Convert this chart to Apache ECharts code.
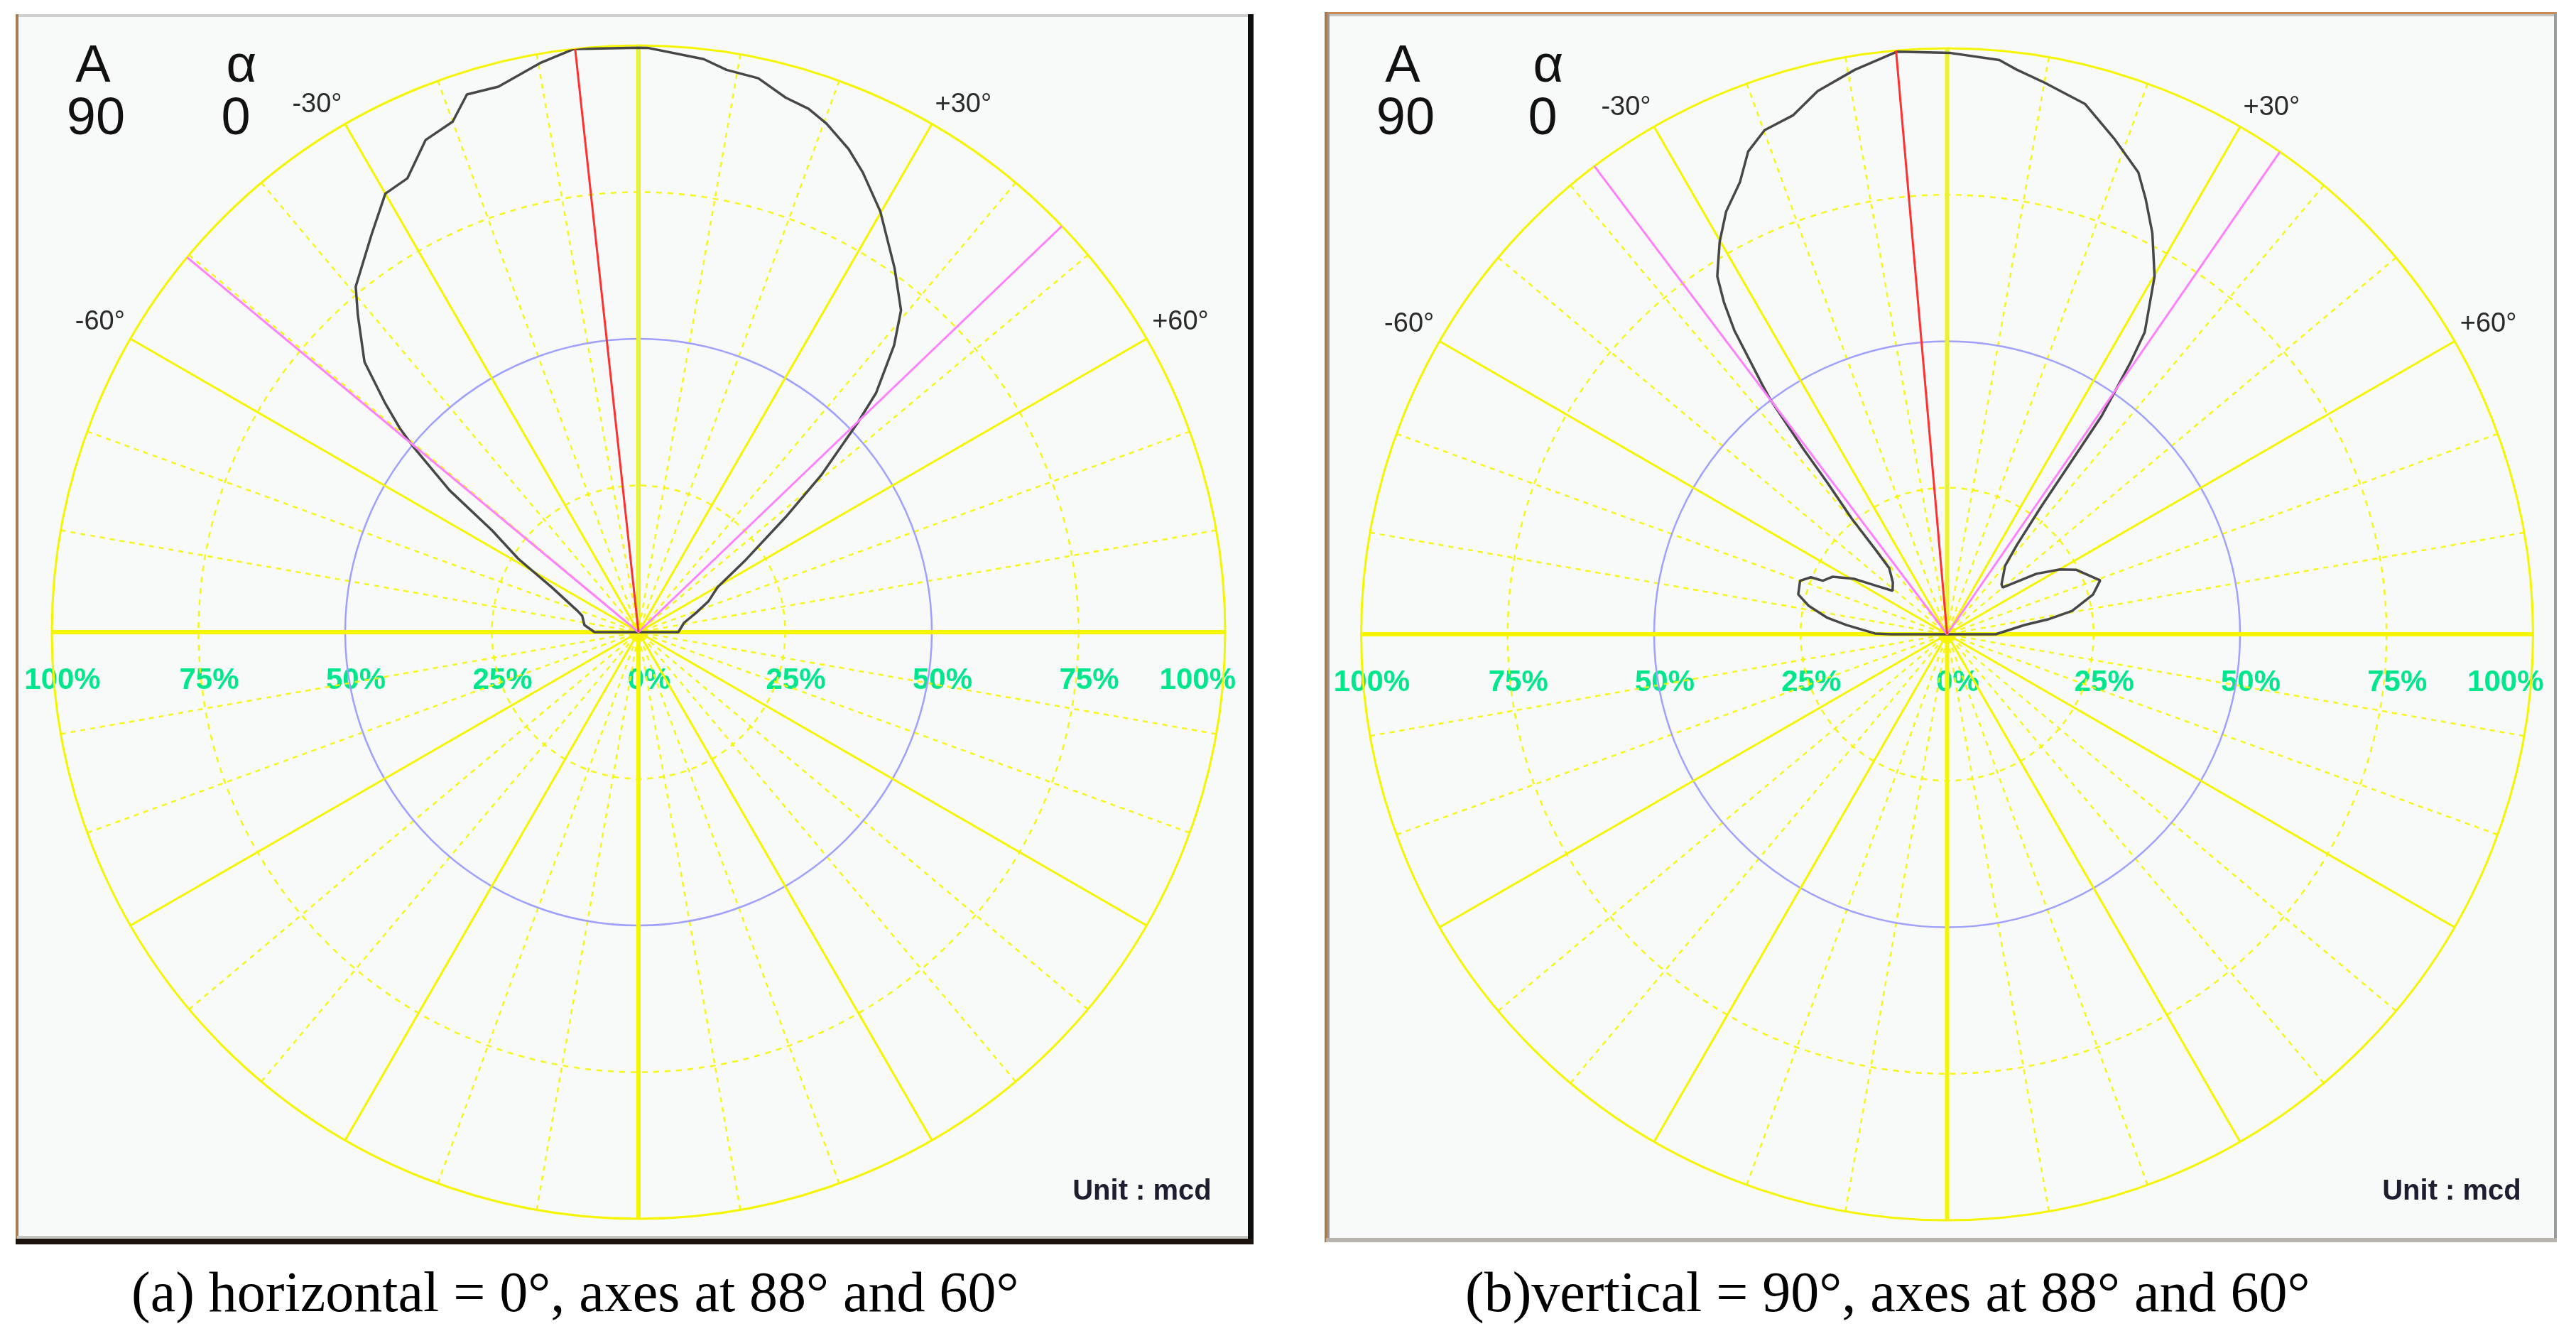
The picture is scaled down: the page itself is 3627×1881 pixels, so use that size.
<!DOCTYPE html>
<html>
<head>
<meta charset="utf-8">
<script src="https://cdn.jsdelivr.net/npm/echarts@6/dist/echarts.min.js"></script>
<style>
html,body{margin:0;padding:0;background:#ffffff;}
#c{width:3627px;height:1881px;}
</style>
</head>
<body>
<div id="c"></div>
<script>
// ---------- data ----------
// panel (a): horizontal = 0°
const anglesA = [-90, -82.5, -73.8, -70.8, -62.7, -58.6, -55.2, -53.1, -50.6, -49.5, -47.9, -45.4, -41.5, -39.3, -33.9, -30.0, -27.0, -23.4, -20.0, -17.7, -14.4, -9.7, -6.3, 0, 0.9, 6.5, 8.9, 12.2, 15.4, 18.0, 20.3, 23.5, 26.0, 29.9, 35.1, 39.2, 41.7, 44.8, 46.3, 49.3, 52.0, 56.0, 60.4, 66.3, 71.6, 78.5, 90];
const radiiA  = [7.5, 9.3, 10.0, 11.0, 16.6, 24.0, 30.4, 40.3, 49.5, 53.5, 58.2, 65.6, 72.2, 76.1, 81.6, 86.3, 86.8, 91.4, 92.6, 96.2, 96.0, 98.5, 100, 99.6, 99.6, 98.3, 97.0, 96.6, 94.5, 93.8, 92.4, 89.8, 87.2, 82.7, 75.9, 70.8, 65.5, 57.5, 51.7, 41.2, 31.8, 22.1, 15.5, 13.0, 10.3, 7.9, 6.8];
// panel (b): vertical = 90°
const anglesB = [-90, -89.4, -84.8, -82.2, -78.4, -75.0, -70.0, -67.3, -66.7, -63.4, -59.3, -55.4, -51.4, -46.3, -41.2, -40.2, -39.5, -38.3, -37.8, -37.0, -36.5, -35.0, -33.9, -32.7, -30.1, -27.6, -24.6, -22.4, -19.9, -16.5, -13.4, -9.3, -4.9, 0.35, 5.2, 7.0, 10.0, 14.6, 18.6, 22.5, 24.5, 27.1, 30.1, 31.4, 33.2, 34.0, 34.7, 35.3, 35.6, 36.4, 38.0, 40.3, 47.5, 50.0, 52.2, 55.9, 60.1, 63.4, 70.6, 74.8, 79.4, 81.6, 83.2, 90];
const radiiB  = [9.5, 12.3, 17.2, 20.6, 24.1, 26.3, 26.7, 25.2, 23.1, 21.9, 18.6, 14.5, 11.9, 12.8, 15.0, 19.1, 25.6, 32.9, 39.9, 50.0, 53.1, 63.3, 68.3, 72.6, 77.4, 81.4, 84.9, 89.1, 91.5, 92.4, 95.3, 97.6, 99.8, 99.2, 98.4, 97.1, 95.6, 93.5, 89.3, 85.3, 81.7, 76.9, 70.6, 66.5, 61.6, 56.0, 50.0, 45.6, 38.5, 27.0, 19.4, 15.3, 12.6, 12.4, 14.1, 18.4, 22.2, 24.6, 27.7, 25.8, 21.7, 17.4, 13.3, 8.3];
// peak direction (red), half-intensity directions (pink), 0° reference
const peakAngleA = -6.2;
const halfAnglesA = [-50.3, 46.2];
const peakAngleB = -5.0;
const halfAnglesB = [-37.0, 34.6];
const referenceAngle = 0;
// tick labels
const angleTickValues = [-60, -30, 30, 60];
const angleTickLabels = ['-60°', '-30°', '+30°', '+60°'];
const percentTickValues = [-100, -75, -50, -25, 0, 25, 50, 75, 100];
const percentTickLabels = ['100%', '75%', '50%', '25%', '0%', '25%', '50%', '75%', '100%'];
const headerNames = ['A', 'α'];
const headerValues = ['90', '0'];
const unitText = 'Unit : mcd';
const captions = ['(a) horizontal = 0°, axes at 88° and 60°', '(b)vertical = 90°, axes at 88° and 60°'];

// ---------- layout ----------
const panels = [
  {cx: 899, cy: 890, R: 826, box: [24, 22, 1765, 1752], angles: anglesA, radii: radiiA, peak: peakAngleA, half: halfAnglesA,
   hdrX: [131, 340], unitX: 1608, capX: 185},
  {cx: 2741.5, cy: 893, R: 825, box: [1867, 19, 3600, 1749], angles: anglesB, radii: radiiB, peak: peakAngleB, half: halfAnglesB,
   hdrX: [1975, 2180], unitX: 3452, capX: 2063}
];

const YEL = '#f5f500';
const polar = [], angleAxis = [], radiusAxis = [], series = [];
const grid = [], xAxis = [], yAxis = [], graphic = [];

function addPolar(cx, cy, r, axisOpt, z) {
  const idx = polar.length;
  polar.push({center: [cx, cy], radius: r});
  angleAxis.push(Object.assign({
    polarIndex: idx, type: 'value', min: -180, max: 180, startAngle: 270, clockwise: true, z: z,
    axisLine: {show: false}, axisTick: {show: false}, axisLabel: {show: false}, splitLine: {show: false}
  }, axisOpt));
  radiusAxis.push({polarIndex: idx, type: 'value', min: 0, max: 100, show: false});
  return idx;
}

panels.forEach(function (p, pi) {
  const [x0, y0, x1, y1] = p.box;
  // panel frame
  graphic.push({type: 'rect', z: -20, shape: {x: x0, y: y0, width: x1 - x0, height: y1 - y0}, style: {fill: '#f7faf8'}});
  if (pi === 0) {
    graphic.push({type: 'rect', z: -10, shape: {x: x0, y: y0 - 2, width: x1 - x0, height: 4}, style: {fill: '#cfcfcf'}});
    graphic.push({type: 'rect', z: -10, shape: {x: x0 - 2, y: y0 - 2, width: 4, height: y1 - y0 + 2}, style: {fill: '#a97b52'}});
    graphic.push({type: 'rect', z: -10, shape: {x: x0, y: y1 - 12, width: x1 - x0, height: 4}, style: {fill: '#c4c4c0'}});
    graphic.push({type: 'rect', z: -10, shape: {x: x1 - 8, y: y0 - 2, width: 8, height: y1 - y0 + 2}, style: {fill: '#0d0d0d'}});
    graphic.push({type: 'rect', z: -10, shape: {x: x0 - 2, y: y1 - 8, width: x1 - x0 + 2, height: 8}, style: {fill: '#1b140c'}});
  } else {
    graphic.push({type: 'rect', z: -10, shape: {x: x0, y: y0 - 2, width: x1 - x0, height: 3}, style: {fill: '#c98a50'}});
    graphic.push({type: 'rect', z: -10, shape: {x: x0, y: y0 + 1, width: x1 - x0, height: 3}, style: {fill: '#c4c4c4'}});
    graphic.push({type: 'rect', z: -10, shape: {x: x0 - 2, y: y0 - 2, width: 4, height: y1 - y0 + 2}, style: {fill: '#a97b52'}});
    graphic.push({type: 'rect', z: -10, shape: {x: x0 + 2, y: y0, width: 3, height: y1 - y0}, style: {fill: '#9a9a9a'}});
    graphic.push({type: 'rect', z: -10, shape: {x: x1 - 4, y: y0, width: 4, height: y1 - y0}, style: {fill: '#9a9a9a'}});
    graphic.push({type: 'rect', z: -10, shape: {x: x0, y: y1 - 6, width: x1 - x0, height: 6}, style: {fill: '#b8b4ac'}});
  }

  // grid: dashed radials every 10°
  addPolar(p.cx, p.cy, p.R, {interval: 10,
    splitLine: {show: true, lineStyle: {color: YEL, width: 2.5, type: [7, 7], opacity: 0.9}}}, 1);
  // dashed circles at 25% and 75%
  addPolar(p.cx, p.cy, p.R * 0.25, {interval: 30,
    axisLine: {show: true, lineStyle: {color: YEL, width: 2.5, type: [8, 8], opacity: 0.9}}}, 2);
  addPolar(p.cx, p.cy, p.R * 0.75, {interval: 30,
    axisLine: {show: true, lineStyle: {color: YEL, width: 2.5, type: [8, 8], opacity: 0.9}}}, 2);
  // blue 50% circle
  addPolar(p.cx, p.cy, p.R * 0.5, {interval: 30,
    axisLine: {show: true, lineStyle: {color: '#a0a0ff', width: 2.5}}}, 3);
  // main polar: solid radials every 30°, outer circle, angle labels
  const main = addPolar(p.cx, p.cy, p.R, {interval: 30,
    axisLine: {show: true, lineStyle: {color: YEL, width: 3}},
    splitLine: {show: true, lineStyle: {color: YEL, width: 3}},
    axisLabel: {show: true, margin: 9, color: '#2a2a2a', fontSize: 38, fontFamily: 'Liberation Sans',
      formatter: function (v) { const i = angleTickValues.indexOf(v); return i >= 0 ? angleTickLabels[i] : ''; }}}, 4);
  // thick horizontal / vertical axes
  addPolar(p.cx, p.cy, p.R, {interval: 90,
    splitLine: {show: true, lineStyle: {color: YEL, width: 6}}}, 5);

  // percentage labels on the horizontal axis
  grid.push({left: p.cx - p.R + 15, top: p.cy - 10, width: 2 * p.R, height: 10});
  xAxis.push({gridIndex: pi, type: 'value', min: -100, max: 100, interval: 25,
    axisLine: {show: false}, axisTick: {show: false}, splitLine: {show: false},
    axisLabel: {margin: 47, color: '#00e68c', fontSize: 42, fontWeight: 'bold', fontFamily: 'Liberation Sans',
      alignMaxLabel: 'right',
      formatter: function (v) { const i = percentTickValues.indexOf(v); return i >= 0 ? percentTickLabels[i] : ''; }}});
  yAxis.push({gridIndex: pi, type: 'value', show: false, min: 0, max: 1});

  // faint 0° reference line over the upper vertical axis
  series.push({type: 'line', coordinateSystem: 'polar', polarIndex: main,
    data: [[0, referenceAngle], [100, referenceAngle]], symbol: 'none',
    lineStyle: {color: '#c0ecd0', width: 1.5}, z: 5, silent: true});
  // intensity curve
  const curve = [[0, -90]];
  p.angles.forEach(function (a, i) { curve.push([p.radii[i], a]); });
  curve.push([0, 90]);
  series.push({type: 'line', coordinateSystem: 'polar', polarIndex: main, data: curve, symbol: 'none',
    lineStyle: {color: '#474747', width: 3.5}, z: 6, silent: true});
  // half-intensity directions
  series.push({type: 'line', coordinateSystem: 'polar', polarIndex: main,
    data: [[100, p.half[0]], [0, 0], [100, p.half[1]]], symbol: 'none',
    lineStyle: {color: '#ff80ff', width: 3}, z: 7, silent: true});
  // peak direction
  series.push({type: 'line', coordinateSystem: 'polar', polarIndex: main,
    data: [[0, p.peak], [100, p.peak]], symbol: 'none',
    lineStyle: {color: '#ff3030', width: 3}, z: 8, silent: true});

  // header text
  const hy1 = 95, hy2 = 169;
  graphic.push({type: 'text', z: 50, x: p.hdrX[0], y: hy1, style: {text: headerNames[0], fontSize: 74, fontFamily: 'Liberation Sans', fill: '#111', align: 'center', verticalAlign: 'middle'}});
  graphic.push({type: 'text', z: 50, x: p.hdrX[1], y: hy1, style: {text: headerNames[1], fontSize: 74, fontFamily: 'Liberation Sans', fill: '#111', align: 'center', verticalAlign: 'middle'}});
  graphic.push({type: 'text', z: 50, x: p.hdrX[0] + 4, y: hy2, style: {text: headerValues[0], fontSize: 74, fontFamily: 'Liberation Sans', fill: '#111', align: 'center', verticalAlign: 'middle'}});
  graphic.push({type: 'text', z: 50, x: p.hdrX[1] - 8, y: hy2, style: {text: headerValues[1], fontSize: 74, fontFamily: 'Liberation Sans', fill: '#111', align: 'center', verticalAlign: 'middle'}});
  // unit
  graphic.push({type: 'text', z: 50, x: p.unitX, y: 1678, style: {text: unitText, fontSize: 40, fontWeight: 'bold', fontFamily: 'Liberation Sans', fill: '#1e1e30', align: 'center', verticalAlign: 'middle'}});
  // caption
  graphic.push({type: 'text', z: 50, x: p.capX, y: 1825, style: {text: captions[pi], fontSize: 80, fontFamily: 'Liberation Serif', fill: '#000', align: 'left', verticalAlign: 'middle'}});
});

// empty series so each cartesian grid is laid out (no visible marks)
panels.forEach(function (p, pi) {
  series.push({type: 'line', xAxisIndex: pi, yAxisIndex: pi, data: [], silent: true});
});

const chart = echarts.init(document.getElementById('c'), null, {renderer: 'canvas', width: 3627, height: 1881});
chart.setOption({
  animation: false,
  backgroundColor: '#ffffff',
  polar: polar,
  angleAxis: angleAxis,
  radiusAxis: radiusAxis,
  grid: grid,
  xAxis: xAxis,
  yAxis: yAxis,
  series: series,
  graphic: graphic
});
</script>
</body>
</html>
